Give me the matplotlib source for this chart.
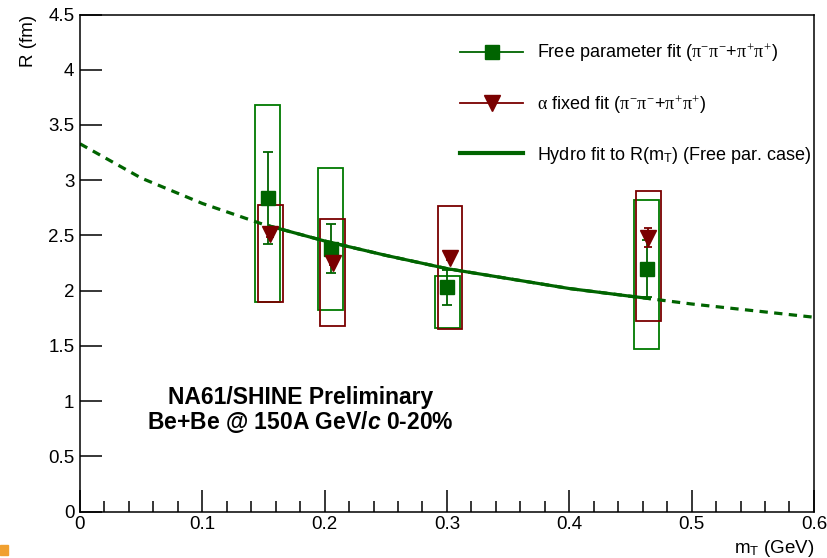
import matplotlib
matplotlib.use("Agg")
import matplotlib.pyplot as plt
from matplotlib.lines import Line2D
from matplotlib.patches import Rectangle
from matplotlib.ticker import MultipleLocator, FormatStrFormatter

plt.rcParams['font.family'] = ['Liberation Sans', 'DejaVu Sans']
plt.rcParams['mathtext.fontset'] = 'custom'
plt.rcParams['mathtext.rm'] = 'Liberation Serif'
plt.rcParams['mathtext.it'] = 'Liberation Serif'
plt.rcParams['mathtext.sf'] = 'Liberation Sans'
plt.rcParams['mathtext.bfit'] = 'Liberation Sans:italic:bold'

# free parameter fit (pi-pi- + pi+pi+)
mt_free = [0.1535, 0.205, 0.3003, 0.4634]
R_free = [2.84, 2.38, 2.03, 2.20]
stat_free = [0.42, 0.22, 0.155, 0.26]
sys_lo_free = [1.90, 1.83, 1.665, 1.47]
sys_hi_free = [3.68, 3.11, 2.13, 2.82]

# alpha fixed fit
mt_fix = [0.1554, 0.2066, 0.3025, 0.4647]
R_fix = [2.51, 2.25, 2.30, 2.48]
stat_fix = [0.02, 0.02, 0.02, 0.085]
sys_lo_fix = [1.90, 1.68, 1.65, 1.73]
sys_hi_fix = [2.78, 2.65, 2.77, 2.905]

# hydro fit curve
mt_hydro = [0.0, 0.05, 0.1, 0.15, 0.2, 0.25, 0.3, 0.35, 0.4, 0.45, 0.5, 0.55, 0.6]
R_hydro = [3.33, 3.02, 2.79, 2.60, 2.45, 2.32, 2.20, 2.11, 2.02, 1.95, 1.88, 1.82, 1.76]
# part of the curve inside the fitted range
mt_hydro_fit = [0.155, 0.2, 0.25, 0.3, 0.35, 0.4, 0.45, 0.465]
R_hydro_fit = [2.585, 2.45, 2.32, 2.20, 2.11, 2.02, 1.95, 1.93]

box_w = 0.0204
green = '#006400'
green_box = '#007a00'
red = '#7a0000'

fig = plt.figure(figsize=(8.28, 5.58), dpi=100)
ax = fig.add_axes([0.0966, 0.083, 0.8864, 0.891])

# dashed full-range curve, solid over the fitted range
ax.plot(mt_hydro, R_hydro, color=green, lw=2.3, ls=(0, (2.6, 2.0)))
ax.plot(mt_hydro_fit, R_hydro_fit, color=green, lw=2.3)

# systematic boxes
for x, lo, hi in zip(mt_free, sys_lo_free, sys_hi_free):
    ax.add_patch(Rectangle((x - box_w / 2, lo), box_w, hi - lo, fill=False,
                           ec=green_box, lw=1.3))
for x, lo, hi in zip(mt_fix, sys_lo_fix, sys_hi_fix):
    ax.add_patch(Rectangle((x - box_w / 2, lo), box_w, hi - lo, fill=False,
                           ec=red, lw=1.3))

ax.errorbar(mt_free, R_free, yerr=stat_free, fmt='s', color=green, ms=10.5,
            elinewidth=1.3, capsize=3.5, capthick=1.3)
ax.errorbar(mt_fix, R_fix, yerr=stat_fix, fmt='v', color=red, ms=11,
            elinewidth=1.3, capsize=3, capthick=1.3)

ax.set_xlim(0, 0.6)
ax.set_ylim(0, 4.5)
ax.xaxis.set_major_locator(MultipleLocator(0.1))
ax.xaxis.set_minor_locator(MultipleLocator(0.02))
ax.yaxis.set_major_locator(MultipleLocator(0.5))
ax.xaxis.set_major_formatter(FormatStrFormatter('%g'))
ax.yaxis.set_major_formatter(FormatStrFormatter('%g'))
ax.tick_params(which='both', direction='in', top=False, right=False,
               labelsize=13.5, width=1.1)
ax.tick_params(axis='x', which='major', length=16, pad=3)
ax.tick_params(axis='x', which='minor', length=8)
ax.tick_params(axis='y', which='major', length=16, pad=4)
for s in ax.spines.values():
    s.set_linewidth(1.1)

ax.set_ylabel('R (fm)', loc='top', fontsize=13.5, labelpad=8)
ax.set_xlabel(r'm$_{\mathsf{T}}$ (GeV)', loc='right', fontsize=13.5, labelpad=4)

handles = [
    Line2D([], [], color=green, marker='s', ms=10.5, lw=1.3),
    Line2D([], [], color=red, marker='v', ms=11, lw=1.3),
    Line2D([], [], color=green, lw=3),
]
labels = [
    r'Free parameter fit ($\pi^{-}\pi^{-}$+$\pi^{+}\pi^{+}$)',
    r'$\alpha$ fixed fit ($\pi^{-}\pi^{-}$+$\pi^{+}\pi^{+}$)',
    r'Hydro fit to R(m$_{\mathsf{T}}$) (Free par. case)',
]
ax.legend(handles, labels, loc='upper left', bbox_to_anchor=(0.518, 0.946),
          frameon=False, fontsize=13, labelspacing=1.6, handlelength=3.5,
          handletextpad=0.75, borderpad=0, borderaxespad=0)

ax.text(0.30, 0.204, 'NA61/SHINE Preliminary\nBe+Be @ 150A GeV/$\\mathbfit{c}$ 0-20%',
        transform=ax.transAxes, ha='center', va='center', fontsize=16.5,
        fontweight='bold', linespacing=1.0)

# small orange slide mark at bottom-left corner
fig.patches.append(Rectangle((0, 0.005), 0.01, 0.018, transform=fig.transFigure,
                             color='#f0a030', figure=fig))

fig.savefig('out.png', dpi=100)
